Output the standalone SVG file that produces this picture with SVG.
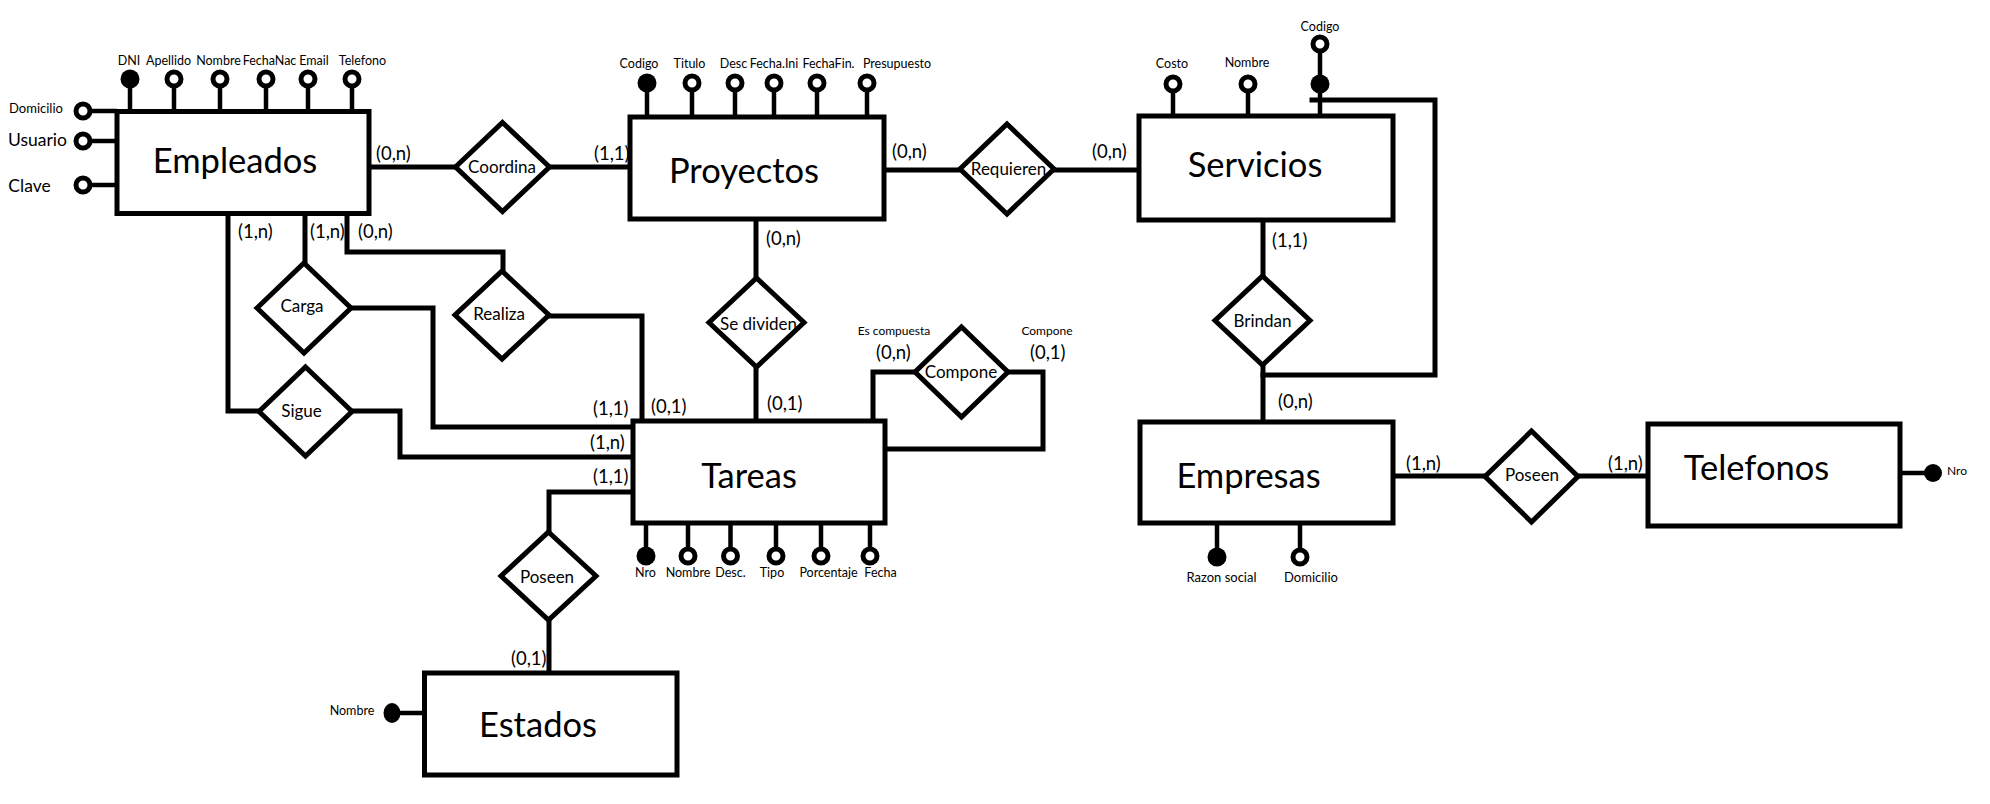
<svg xmlns="http://www.w3.org/2000/svg" width="1990" height="804" viewBox="0 0 1990 804">
<style>
.ent{fill:#fff;stroke:#000;stroke-width:5}
.rel{fill:#fff;stroke:#000;stroke-width:5;stroke-linejoin:miter}
.cn{fill:none;stroke:#000;stroke-width:5;stroke-linecap:square}
.al{stroke:#000;stroke-width:4.5}
.ao{fill:#fff;stroke:#000;stroke-width:5}
.af{fill:#000}
text{font-family:Lato,"Liberation Sans",sans-serif;fill:#000}
.et{font-size:34.5px;text-anchor:middle}
.rt{font-size:17px;text-anchor:middle}
.card{font-size:18.5px}
.at{font-size:12.5px;text-anchor:middle}
</style>
<rect width="1990" height="804" fill="#fff"/>

<g id="connectors">
  <path class="cn" d="M369,167H455"/>
  <path class="cn" d="M550,167H630"/>
  <path class="cn" d="M884,170H960"/>
  <path class="cn" d="M1054,170H1139"/>
  <path class="cn" d="M756,219V278"/>
  <path class="cn" d="M756,367V421"/>
  <path class="cn" d="M347,213V252H503V271"/>
  <path class="cn" d="M549,316H642V421"/>
  <path class="cn" d="M305,213V263"/>
  <path class="cn" d="M351,308H433V427H633"/>
  <path class="cn" d="M228,213V411H259"/>
  <path class="cn" d="M352,411H400V457H633"/>
  <path class="cn" d="M633,492H549V532"/>
  <path class="cn" d="M549,620V673"/>
  <path class="cn" d="M873,421V372H915"/>
  <path class="cn" d="M1008,372H1043V449H886"/>
  <path class="cn" d="M1263,220V276"/>
  <path class="cn" d="M1263,365V422"/>
  <path class="cn" d="M1312,100H1435V375H1263"/>
  <path class="cn" d="M1393,476H1485"/>
  <path class="cn" d="M1578,476H1648"/>
  <text class="card" x="376" y="160">(0,n)</text>
  <text class="card" x="594" y="160">(1,1)</text>
  <text class="card" x="892" y="158">(0,n)</text>
  <text class="card" x="1092" y="158">(0,n)</text>
  <text class="card" x="766" y="245">(0,n)</text>
  <text class="card" x="238" y="238">(1,n)</text>
  <text class="card" x="310" y="238">(1,n)</text>
  <text class="card" x="358" y="238">(0,n)</text>
  <text class="card" x="593" y="415">(1,1)</text>
  <text class="card" x="590" y="449">(1,n)</text>
  <text class="card" x="651" y="413">(0,1)</text>
  <text class="card" x="767" y="410">(0,1)</text>
  <text class="card" x="876" y="359">(0,n)</text>
  <text class="card" x="1030" y="359">(0,1)</text>
  <text class="card" x="593" y="483">(1,1)</text>
  <text class="card" x="511" y="665">(0,1)</text>
  <text class="card" x="1272" y="247">(1,1)</text>
  <text class="card" x="1278" y="408">(0,n)</text>
  <text class="card" x="1406" y="470">(1,n)</text>
  <text class="card" x="1608" y="470">(1,n)</text>
  <text class="at" x="894" y="335" style="font-size:12px">Es compuesta</text>
  <text class="at" x="1047" y="335" style="font-size:12px">Compone</text>
</g>

<g id="empleados">
  <line class="al" x1="130" y1="79" x2="130" y2="112"/>
  <line class="al" x1="174" y1="79" x2="174" y2="112"/>
  <line class="al" x1="220" y1="79" x2="220" y2="112"/>
  <line class="al" x1="266" y1="79" x2="266" y2="112"/>
  <line class="al" x1="308" y1="79" x2="308" y2="112"/>
  <line class="al" x1="352" y1="79" x2="352" y2="112"/>
  <line class="al" x1="83" y1="111" x2="117" y2="111"/>
  <line class="al" x1="83" y1="141" x2="117" y2="141"/>
  <line class="al" x1="83" y1="185" x2="117" y2="185"/>
  <rect class="ent" x="117" y="111.5" width="252" height="102"/>
  <text class="et" x="235" y="173">Empleados</text>
  <circle class="af" cx="130" cy="79" r="9.5"/>
  <circle class="ao" cx="174" cy="79" r="7"/>
  <circle class="ao" cx="220" cy="79" r="7"/>
  <circle class="ao" cx="266" cy="79" r="7"/>
  <circle class="ao" cx="308" cy="79" r="7"/>
  <circle class="ao" cx="352" cy="79" r="7"/>
  <circle class="ao" cx="83" cy="111" r="7"/>
  <circle class="ao" cx="83" cy="141" r="7"/>
  <circle class="ao" cx="83" cy="185" r="7"/>
  <text class="at" x="129" y="65">DNI</text>
  <text class="at" x="168.5" y="65">Apellido</text>
  <text class="at" x="218.5" y="65">Nombre</text>
  <text class="at" x="269.5" y="65">FechaNac</text>
  <text class="at" x="314" y="65">Email</text>
  <text class="at" x="362.5" y="65">Telefono</text>
  <text class="at" x="36" y="113" style="font-size:13px">Domicilio</text>
  <text class="at" x="37.5" y="146" style="font-size:17.5px">Usuario</text>
  <text class="at" x="29.5" y="192" style="font-size:17.5px">Clave</text>
</g>

<g id="proyectos">
  <line class="al" x1="647" y1="83" x2="647" y2="117"/>
  <line class="al" x1="692" y1="83" x2="692" y2="117"/>
  <line class="al" x1="735" y1="83" x2="735" y2="117"/>
  <line class="al" x1="774" y1="83" x2="774" y2="117"/>
  <line class="al" x1="817" y1="83" x2="817" y2="117"/>
  <line class="al" x1="867" y1="83" x2="867" y2="117"/>
  <rect class="ent" x="630" y="117" width="254" height="102"/>
  <text class="et" x="744" y="183">Proyectos</text>
  <circle class="af" cx="647" cy="83" r="9.5"/>
  <circle class="ao" cx="692" cy="83" r="7"/>
  <circle class="ao" cx="735" cy="83" r="7"/>
  <circle class="ao" cx="774" cy="83" r="7"/>
  <circle class="ao" cx="817" cy="83" r="7"/>
  <circle class="ao" cx="867" cy="83" r="7"/>
  <text class="at" x="639" y="68">Codigo</text>
  <text class="at" x="689.5" y="68">Titulo</text>
  <text class="at" x="733.5" y="68">Desc</text>
  <text class="at" x="774" y="68">Fecha.Ini</text>
  <text class="at" x="828.5" y="68">FechaFin.</text>
  <text class="at" x="897" y="68">Presupuesto</text>
</g>

<g id="servicios">
  <line class="al" x1="1173" y1="84" x2="1173" y2="116"/>
  <line class="al" x1="1248" y1="84" x2="1248" y2="116"/>
  <line class="al" x1="1320" y1="44" x2="1320" y2="116"/>
  <rect class="ent" x="1139" y="116" width="254" height="104"/>
  <text class="et" x="1255" y="177">Servicios</text>
  <circle class="ao" cx="1173" cy="84" r="7"/>
  <circle class="ao" cx="1248" cy="84" r="7"/>
  <circle class="ao" cx="1320" cy="44" r="7"/>
  <circle class="af" cx="1320" cy="84" r="9.5"/>
  <text class="at" x="1172" y="68">Costo</text>
  <text class="at" x="1247" y="67">Nombre</text>
  <text class="at" x="1320" y="31">Codigo</text>
</g>

<g id="tareas">
  <line class="al" x1="646" y1="523" x2="646" y2="556"/>
  <line class="al" x1="688" y1="523" x2="688" y2="556"/>
  <line class="al" x1="730.5" y1="523" x2="730.5" y2="556"/>
  <line class="al" x1="776" y1="523" x2="776" y2="556"/>
  <line class="al" x1="821" y1="523" x2="821" y2="556"/>
  <line class="al" x1="870" y1="523" x2="870" y2="556"/>
  <rect class="ent" x="633" y="421" width="252" height="102"/>
  <text class="et" x="749" y="488">Tareas</text>
  <circle class="af" cx="646" cy="556" r="9.5"/>
  <circle class="ao" cx="688" cy="556" r="7"/>
  <circle class="ao" cx="730.5" cy="556" r="7"/>
  <circle class="ao" cx="776" cy="556" r="7"/>
  <circle class="ao" cx="821" cy="556" r="7"/>
  <circle class="ao" cx="870" cy="556" r="7"/>
  <text class="at" x="645.5" y="577">Nro</text>
  <text class="at" x="688" y="577">Nombre</text>
  <text class="at" x="730.5" y="577">Desc.</text>
  <text class="at" x="772" y="577">Tipo</text>
  <text class="at" x="828.5" y="577">Porcentaje</text>
  <text class="at" x="880.5" y="577">Fecha</text>
</g>

<g id="estados">
  <line class="al" x1="392" y1="713" x2="425" y2="713"/>
  <rect class="ent" x="424.5" y="673" width="252.5" height="102"/>
  <text class="et" x="538" y="737">Estados</text>
  <ellipse class="af" cx="392" cy="713" rx="8.5" ry="10"/>
  <text class="at" x="352" y="715">Nombre</text>
</g>

<g id="empresas">
  <line class="al" x1="1217" y1="523" x2="1217" y2="557"/>
  <line class="al" x1="1300" y1="523" x2="1300" y2="557"/>
  <rect class="ent" x="1140" y="422" width="253" height="101"/>
  <text class="et" x="1248.5" y="488">Empresas</text>
  <circle class="af" cx="1217" cy="557" r="9.5"/>
  <circle class="ao" cx="1300" cy="557" r="7"/>
  <text class="at" x="1221.5" y="582" style="font-size:13px">Razon social</text>
  <text class="at" x="1311" y="582" style="font-size:13px">Domicilio</text>
</g>

<g id="telefonos">
  <line class="al" x1="1900" y1="473" x2="1933" y2="473"/>
  <rect class="ent" x="1648" y="424" width="252" height="102"/>
  <text class="et" x="1756.5" y="480">Telefonos</text>
  <circle class="af" cx="1933" cy="473" r="9"/>
  <text x="1947" y="475" style="font-size:12px">Nro</text>
</g>

<g id="coordina">
  <polygon class="rel" points="502.5,122.5 549.5,167 502.5,211.5 455.5,167"/>
  <text class="rt" x="502" y="173">Coordina</text>
</g>
<g id="requieren">
  <polygon class="rel" points="1007,124 1054,169 1007,214 960,169"/>
  <text class="rt" x="1008.5" y="175">Requieren</text>
</g>
<g id="se-dividen">
  <polygon class="rel" points="756.5,278 804,322.5 756.5,367 709,322.5"/>
  <text class="rt" x="758.5" y="330">Se dividen</text>
</g>
<g id="carga">
  <polygon class="rel" points="304,263 351,308 304,353 257,308"/>
  <text class="rt" x="302" y="312">Carga</text>
</g>
<g id="realiza">
  <polygon class="rel" points="502,271 549,315 502,359 455,315"/>
  <text class="rt" x="499" y="320">Realiza</text>
</g>
<g id="sigue">
  <polygon class="rel" points="305.5,367 352,411.5 305.5,456 259,411.5"/>
  <text class="rt" x="301.5" y="417">Sigue</text>
</g>
<g id="compone">
  <polygon class="rel" points="961.5,327 1008,372 961.5,417 915,372"/>
  <text class="rt" x="961" y="378">Compone</text>
</g>
<g id="brindan">
  <polygon class="rel" points="1262.5,276 1310,320.5 1262.5,365 1215,320.5"/>
  <text class="rt" x="1262.5" y="327">Brindan</text>
</g>
<g id="poseen-estados">
  <polygon class="rel" points="548.5,532 596,576 548.5,620 501,576"/>
  <text class="rt" x="547" y="583">Poseen</text>
</g>
<g id="poseen-telefonos">
  <polygon class="rel" points="1531.5,431 1578,476.5 1531.5,522 1485,476.5"/>
  <text class="rt" x="1532" y="481">Poseen</text>
</g>
</svg>
